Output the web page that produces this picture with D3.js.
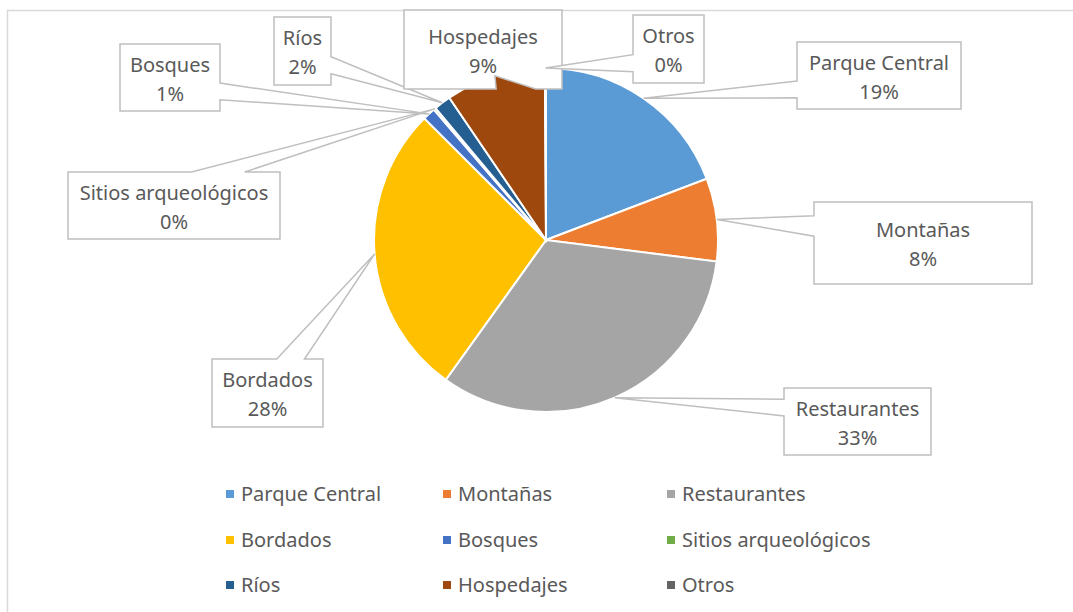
<!DOCTYPE html>
<html>
<head>
<meta charset="utf-8">
<script src="https://cdn.jsdelivr.net/npm/d3@7"></script>
<style>
  html, body { margin: 0; padding: 0; background: #fff; }
  svg { display: block; font-family: "Noto Sans", "Open Sans", sans-serif; }
</style>
</head>
<body>
<div id="chart"></div>
<script>
// categorías y valores (porcentaje estimado de cada sector)
const categories = ['Parque Central', 'Montañas', 'Restaurantes', 'Bordados', 'Bosques',
  'Sitios arqueológicos', 'Ríos', 'Hospedajes', 'Otros'];
const values = [19.2, 7.8, 32.9, 27.6, 1.2, 0.2, 1.6, 9.4, 0.1];
const colors = ['#5B9BD5', '#ED7D31', '#A5A5A5', '#FFC000', '#4472C4',
  '#70AD47', '#255E91', '#9E480E', '#636363'];

// cajas de las etiquetas (x, y, ancho, alto), colocadas a mano como en el original
const calloutBoxes = [
  [797, 42, 164, 67], [814, 202, 218, 82], [784, 388, 147, 67],
  [212, 359, 111, 68], [120, 44, 100, 67], [68, 172, 212, 67],
  [274, 17, 57, 68], [404, 10, 158, 79], [633, 15, 71, 68]
];

const width = 1073, height = 612;
const cx = 546, cy = 240, radius = 172;
const textColor = '#595959';
const fontSize = '20px';

const svg = d3.select('#chart').append('svg')
  .attr('width', width)
  .attr('height', height);

// borde del área del gráfico
svg.append('rect')
  .attr('x', 7.5).attr('y', 10.5)
  .attr('width', 1100).attr('height', 700)
  .attr('fill', 'none')
  .attr('stroke', '#d9d9d9')
  .attr('stroke-width', 1.5);

const pie = d3.pie().sort(null).value(d => d);
const arcs = pie(values);
const total = d3.sum(values);
const arc = d3.arc().innerRadius(0).outerRadius(radius);

const g = svg.append('g').attr('transform', `translate(${cx},${cy})`);

g.selectAll('path.slice')
  .data(arcs)
  .enter()
  .append('path')
  .attr('class', 'slice')
  .attr('d', arc)
  .attr('fill', (d, i) => colors[i])
  .attr('stroke', '#fff')
  .attr('stroke-width', 2);

// forma de llamada "wedgeRectCallout" de Office
function calloutPath(box, tip) {
  const [l, t, w, h] = box;
  const r = l + w, b = t + h;
  const hc = l + w / 2, vc = t + h / 2;
  const dxPos = tip[0] - hc, dyPos = tip[1] - vc;
  const dq = dxPos * h / w;
  const dz = Math.abs(dyPos) - Math.abs(dq);
  const x1 = l + w * (dxPos > 0 ? 7 : 2) / 12;
  const x2 = l + w * (dxPos > 0 ? 10 : 5) / 12;
  const y1 = t + h * (dyPos > 0 ? 7 : 2) / 12;
  const y2 = t + h * (dyPos > 0 ? 10 : 5) / 12;
  const p = d3.path();
  p.moveTo(l, t);
  if (dz > 0 && dyPos < 0) { p.lineTo(x1, t); p.lineTo(tip[0], tip[1]); p.lineTo(x2, t); }
  p.lineTo(r, t);
  if (dz <= 0 && dxPos > 0) { p.lineTo(r, y1); p.lineTo(tip[0], tip[1]); p.lineTo(r, y2); }
  p.lineTo(r, b);
  if (dz > 0 && dyPos > 0) { p.lineTo(x2, b); p.lineTo(tip[0], tip[1]); p.lineTo(x1, b); }
  p.lineTo(l, b);
  if (dz <= 0 && dxPos < 0) { p.lineTo(l, y2); p.lineTo(tip[0], tip[1]); p.lineTo(l, y1); }
  p.closePath();
  return p.toString();
}

const callouts = svg.selectAll('g.callout')
  .data(arcs)
  .enter()
  .append('g')
  .attr('class', 'callout');

callouts.append('path')
  .attr('d', (d, i) => {
    const a = (d.startAngle + d.endAngle) / 2;
    const tip = [cx + radius * Math.sin(a), cy - radius * Math.cos(a)];
    return calloutPath(calloutBoxes[i], tip);
  })
  .attr('fill', '#fff')
  .attr('stroke', '#bfbfbf')
  .attr('stroke-width', 1.5);

callouts.append('text')
  .attr('x', (d, i) => calloutBoxes[i][0] + calloutBoxes[i][2] / 2)
  .attr('y', (d, i) => calloutBoxes[i][1] + calloutBoxes[i][3] / 2 - 6)
  .attr('text-anchor', 'middle')
  .style('font-size', fontSize)
  .style('fill', textColor)
  .text((d, i) => categories[i]);

callouts.append('text')
  .attr('x', (d, i) => calloutBoxes[i][0] + calloutBoxes[i][2] / 2)
  .attr('y', (d, i) => calloutBoxes[i][1] + calloutBoxes[i][3] / 2 + 23)
  .attr('text-anchor', 'middle')
  .style('font-size', fontSize)
  .style('fill', textColor)
  .text(d => Math.round(d.value / total * 100) + '%');

// leyenda en 3 columnas
const legendCols = [226, 443, 667];
const legendRows = [494, 540, 585];

const legend = svg.append('g').attr('class', 'legend');
const items = legend.selectAll('g')
  .data(categories)
  .enter()
  .append('g')
  .attr('transform', (d, i) => `translate(${legendCols[i % 3]},${legendRows[Math.floor(i / 3)]})`);

items.append('rect')
  .attr('x', 0).attr('y', -4)
  .attr('width', 8).attr('height', 8)
  .attr('fill', (d, i) => colors[i]);

items.append('text')
  .attr('x', 15)
  .attr('y', 7)
  .style('font-size', fontSize)
  .style('fill', textColor)
  .text(d => d);
</script>
</body>
</html>
